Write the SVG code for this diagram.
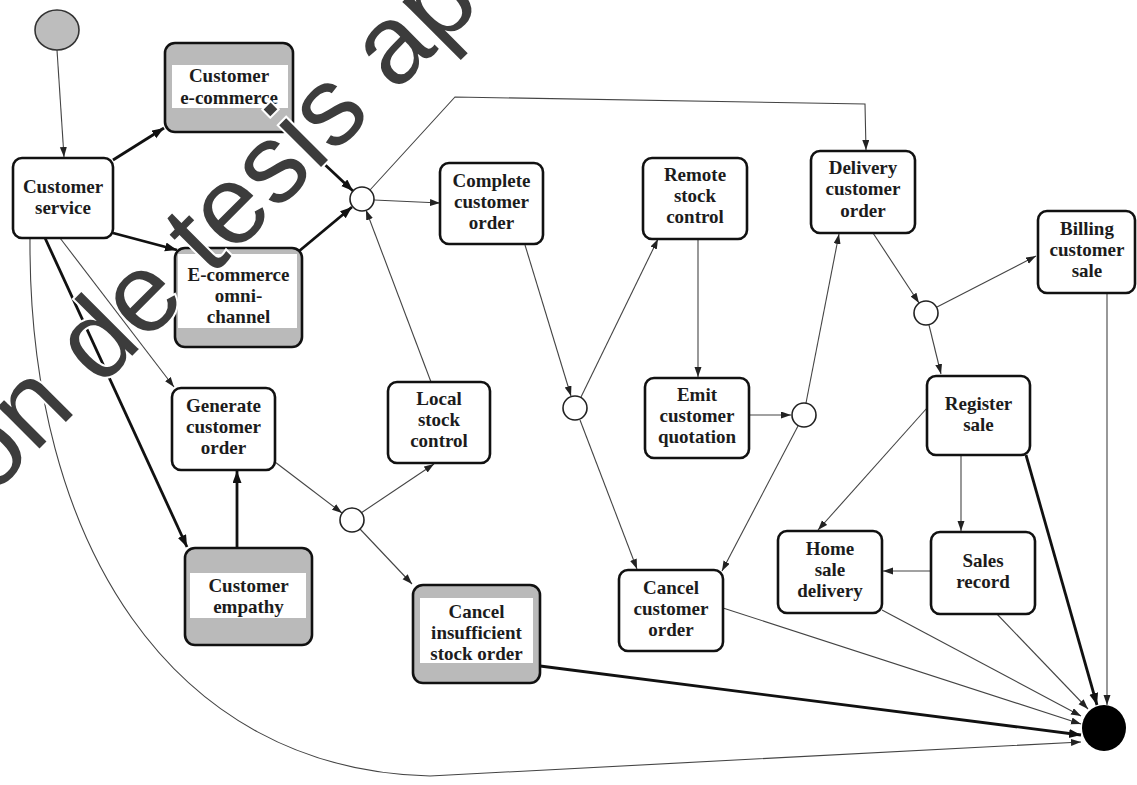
<svg xmlns="http://www.w3.org/2000/svg" width="1137" height="785" viewBox="0 0 1137 785">
  <defs>
    <style>
      .box { fill: #fff; stroke: #111; stroke-width: 2.6; }
      .gbox { fill: #bababa; stroke: #111; stroke-width: 2.6; }
      .band { fill: #fff; }
      .junc { fill: #fff; stroke: #222; stroke-width: 1.6; }
      .lbl { font-family: "Liberation Serif", "Times New Roman", serif; font-weight: bold; font-size: 19px; fill: #1c1c1c; text-anchor: middle; }
      .thin { fill: none; stroke: #444; stroke-width: 1.1; marker-end: url(#arr); }
      .thick { fill: none; stroke: #111; stroke-width: 2.8; marker-end: url(#arrBig); }
      .wm { font-family: "Liberation Sans", Arial, sans-serif; font-size: 112px; fill: #3c3c3c; stroke: #fff; stroke-width: 4; paint-order: stroke; }
    </style>
    <marker id="arr" markerUnits="userSpaceOnUse" markerWidth="11" markerHeight="8" refX="10" refY="3.5" orient="auto">
      <path d="M0,0 L10,3.5 L0,7 Z" fill="#222"/>
    </marker>
    <marker id="arrBig" markerUnits="userSpaceOnUse" markerWidth="13" markerHeight="10" refX="12" refY="4.5" orient="auto">
      <path d="M0,0 L12,4.5 L0,9 Z" fill="#111"/>
    </marker>
  </defs>

  <rect x="0" y="0" width="1137" height="785" fill="#fff"/>

  <!-- connectors -->
  <g id="connectors">
    <path class="thin" d="M57,50 L64,157"/>
    <path class="thick" d="M113,160 L164,128"/>
    <path class="thick" d="M113,233 L177,250"/>
    <path class="thick" d="M288,130 L353,191"/>
    <path class="thick" d="M298,252 L352,207"/>
    <path class="thin" d="M374,200 L440,203"/>
    <path class="thin" d="M370,190 L455,97 L865,104 L866,150"/>
    <path class="thin" d="M60,238 L174,387"/>
    <path class="thick" d="M45,238 L187,547"/>
    <path class="thin" d="M30,238 C28,540 170,770 430,776 L1081,742"/>
    <path class="thin" d="M275,462 L342,513"/>
    <path class="thick" d="M237,548 L237,471"/>
    <path class="thin" d="M361,513 L434,464"/>
    <path class="thin" d="M360,529 L412,584"/>
    <path class="thin" d="M431,382 L366,210"/>
    <path class="thin" d="M525,245 L571,396"/>
    <path class="thin" d="M581,397 L658,239"/>
    <path class="thin" d="M580,420 L637,569"/>
    <path class="thin" d="M698,239 L698,377"/>
    <path class="thin" d="M750,415 L791,415"/>
    <path class="thin" d="M806,403 L839,234"/>
    <path class="thin" d="M798,426 L722,571"/>
    <path class="thin" d="M873,233 L919,303"/>
    <path class="thin" d="M937,307 L1036,256"/>
    <path class="thin" d="M929,325 L941,374"/>
    <path class="thin" d="M927,408 L818,530"/>
    <path class="thin" d="M961,455 L961,531"/>
    <path class="thin" d="M931,571 L883,571"/>
    <path class="thick" d="M1026,455 L1097,705"/>
    <path class="thin" d="M1107,293 L1107,705"/>
    <path class="thin" d="M995,612 L1088,709"/>
    <path class="thin" d="M882,610 L1081,716"/>
    <path class="thin" d="M723,608 L1081,724"/>
    <path class="thick" d="M540,666 L1081,735"/>
  </g>

  <!-- start and end states -->
  <g id="start"><ellipse cx="57" cy="30" rx="22" ry="20" fill="#bdbdbd" stroke="#333" stroke-width="1.6"/></g>
  <g id="end"><ellipse cx="1104" cy="728" rx="22" ry="23" fill="#000"/></g>

  <!-- decision / merge points -->
  <g id="j1"><circle class="junc" cx="362" cy="199" r="12"/></g>
  <g id="j2"><circle class="junc" cx="575" cy="408" r="12"/></g>
  <g id="j3"><circle class="junc" cx="804" cy="415" r="12"/></g>
  <g id="j4"><circle class="junc" cx="926" cy="313" r="12"/></g>
  <g id="j5"><circle class="junc" cx="352" cy="520" r="12"/></g>

  <!-- activities -->
  <g id="customer-service">
    <rect class="box" x="13" y="158" width="100" height="80" rx="9"/>
    <text class="lbl" x="63" y="193">Customer</text>
    <text class="lbl" x="63" y="214">service</text>
  </g>

  <g id="customer-ecommerce">
    <rect class="gbox" x="165" y="43" width="128" height="89" rx="10"/>
    <rect class="band" x="172" y="65" width="116" height="43"/>
    <text class="lbl" x="229" y="82">Customer</text>
    <text class="lbl" x="229" y="104">e-commerce</text>
  </g>

  <g id="ecommerce-omnichannel">
    <rect class="gbox" x="175" y="248" width="127" height="99" rx="10"/>
    <rect class="band" x="178" y="254" width="119" height="74"/>
    <text class="lbl" x="238.5" y="281">E-commerce</text>
    <text class="lbl" x="238.5" y="302">omni-</text>
    <text class="lbl" x="238.5" y="323">channel</text>
  </g>

  <g id="generate-order">
    <rect class="box" x="172" y="388" width="103" height="82" rx="9"/>
    <text class="lbl" x="223.5" y="412">Generate</text>
    <text class="lbl" x="223.5" y="433">customer</text>
    <text class="lbl" x="223.5" y="454">order</text>
  </g>

  <g id="customer-empathy">
    <rect class="gbox" x="185" y="548" width="127" height="97" rx="10"/>
    <rect class="band" x="190" y="573" width="116" height="45"/>
    <text class="lbl" x="248.5" y="592">Customer</text>
    <text class="lbl" x="248.5" y="613">empathy</text>
  </g>

  <g id="complete-order">
    <rect class="box" x="440" y="163" width="103" height="81" rx="9"/>
    <text class="lbl" x="491.5" y="187">Complete</text>
    <text class="lbl" x="491.5" y="208">customer</text>
    <text class="lbl" x="491.5" y="229">order</text>
  </g>

  <g id="local-stock">
    <rect class="box" x="388" y="382" width="102" height="81" rx="9"/>
    <text class="lbl" x="439" y="405">Local</text>
    <text class="lbl" x="439" y="426">stock</text>
    <text class="lbl" x="439" y="447">control</text>
  </g>

  <g id="remote-stock">
    <rect class="box" x="643" y="158" width="104" height="81" rx="9"/>
    <text class="lbl" x="695" y="181">Remote</text>
    <text class="lbl" x="695" y="202">stock</text>
    <text class="lbl" x="695" y="223">control</text>
  </g>

  <g id="emit-quotation">
    <rect class="box" x="645" y="378" width="104" height="80" rx="9"/>
    <text class="lbl" x="697" y="401">Emit</text>
    <text class="lbl" x="697" y="422">customer</text>
    <text class="lbl" x="697" y="443">quotation</text>
  </g>

  <g id="cancel-insufficient">
    <rect class="gbox" x="413" y="585" width="127" height="98" rx="10"/>
    <rect class="band" x="420" y="598" width="113" height="65"/>
    <text class="lbl" x="476.5" y="618">Cancel</text>
    <text class="lbl" x="476.5" y="639">insufficient</text>
    <text class="lbl" x="476.5" y="660">stock order</text>
  </g>

  <g id="cancel-order">
    <rect class="box" x="619" y="570" width="104" height="81" rx="9"/>
    <text class="lbl" x="671" y="594">Cancel</text>
    <text class="lbl" x="671" y="615">customer</text>
    <text class="lbl" x="671" y="636">order</text>
  </g>

  <g id="delivery-order">
    <rect class="box" x="811" y="151" width="104" height="82" rx="9"/>
    <text class="lbl" x="863" y="174">Delivery</text>
    <text class="lbl" x="863" y="195">customer</text>
    <text class="lbl" x="863" y="217">order</text>
  </g>

  <g id="billing-sale">
    <rect class="box" x="1038" y="211" width="97" height="82" rx="9"/>
    <text class="lbl" x="1087" y="235">Billing</text>
    <text class="lbl" x="1087" y="256">customer</text>
    <text class="lbl" x="1087" y="277">sale</text>
  </g>

  <g id="register-sale">
    <rect class="box" x="927" y="376" width="103" height="79" rx="9"/>
    <text class="lbl" x="978.5" y="410">Register</text>
    <text class="lbl" x="978.5" y="431">sale</text>
  </g>

  <g id="home-delivery">
    <rect class="box" x="778" y="531" width="104" height="82" rx="9"/>
    <text class="lbl" x="830" y="555">Home</text>
    <text class="lbl" x="830" y="576">sale</text>
    <text class="lbl" x="830" y="597">delivery</text>
  </g>

  <g id="sales-record">
    <rect class="box" x="931" y="532" width="104" height="82" rx="9"/>
    <text class="lbl" x="983" y="567">Sales</text>
    <text class="lbl" x="983" y="588">record</text>
  </g>

  <!-- diagonal stamp across the upper left -->
  <g id="watermark">
    <text class="wm" transform="translate(-10,498) rotate(-45)">on de tesis ap</text>
  </g>
</svg>
